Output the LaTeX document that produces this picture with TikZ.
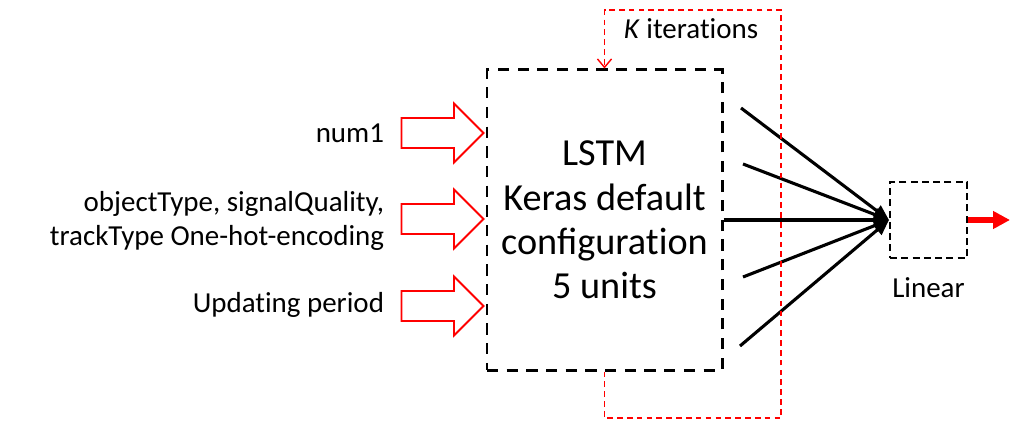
\documentclass[tikz,border=0pt]{standalone}
\usepackage{fontspec}
\setmainfont{Carlito}
\usetikzlibrary{positioning,shapes.arrows,arrows.meta}
\newcommand{\tI}{t\kern0pt i}
\begin{document}
\begin{tikzpicture}[x=0.025cm, y=-0.025cm,
    inarrow/.style={draw=red, line width=1.3pt, single arrow, inner xsep=0pt, inner ysep=0.35cm,
        minimum height=2.05cm, single arrow head extend=0.3625cm},
    intext/.style={anchor=east, align=right, font=\fontsize{20.6}{24}\selectfont},
    feed/.style={line width=2.2pt, -{Triangle[length=11pt,width=9pt]}}]
    \useasboundingbox (0,0) rectangle (1029,425);
    % Draw blocks
    \node[draw, dashed, line width=2.1pt, dash pattern=on 8pt off 6pt, minimum width=5.875cm, minimum height=7.5cm,
        align=center, font=\fontsize{27.2}{31.5}\selectfont] (LSTM) at (604.5,220)
        {LSTM\\Keras default\\configura\tI on\\5 units};
    \node[draw, line width=1.4pt, dash pattern=on 5pt off 3pt, minimum width=1.925cm, minimum height=1.9cm] (Linear) at (928.5,220) {};
    \node[below=0.35cm of Linear, font=\fontsize{20.6}{24}\selectfont] (LinearLabel) {Linear};
    % inputs
    \node[intext] (num) at (389,133) {num1};
    \node[intext] (objtype) at (389,221) {objectType, signalQuality,\\trackType One-hot-encoding};
    \node[intext] (period) at (389,305) {Upda\tI ng period};
    \node[inarrow] (arrnum) at (435,133) {};
    \node[inarrow] (arrobj) at (435,219) {};
    \node[inarrow] (arrper) at (435,306) {};
    % outputs of the LSTM
    \coordinate (o1) at (741,108);
    \coordinate (o2) at (743,164);
    \coordinate (o4) at (743,277);
    \coordinate (o5) at (740,346);
    \draw[feed] (o1) -- (Linear.west);
    \draw[feed] (o2) -- (Linear.west);
    \draw[feed] (LSTM.east) -- (Linear.west);
    \draw[feed] (o4) -- (Linear.west);
    \draw[feed] (o5) -- (Linear.west);
    \coordinate (out) at (1010,220);
    \draw[red, line width=4pt, -{Triangle[length=12pt,width=12pt]}] (Linear.east) -- (out);
    % iteration loop
    \coordinate (loopbot) at (604.5,418);
    \coordinate (looptop) at (781,10);
    \draw[red, line width=1pt, dash pattern=on 4pt off 3pt, -{Straight Barb[length=6pt,width=10pt]}]
        (LSTM.south) -- (loopbot) -| (looptop) -| (LSTM.north);
    \node[font=\fontsize{20.6}{24}\selectfont] (iter) at (691,29) {\textit{K} itera\tI ons};
\end{tikzpicture}
\end{document}
